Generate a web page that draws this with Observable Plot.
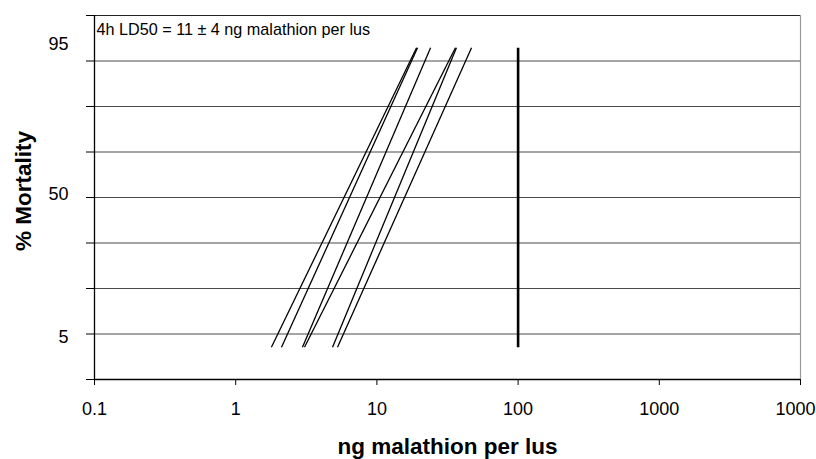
<!DOCTYPE html>
<html>
<head>
<meta charset="utf-8">
<script src="https://cdn.jsdelivr.net/npm/d3@7"></script>
<script src="https://cdn.jsdelivr.net/npm/@observablehq/plot@0.6"></script>
<style>
  html, body { margin: 0; padding: 0; background: #fff; overflow: hidden; }
  #chart svg { display: block; font-family: "Liberation Sans", Arial, sans-serif; }
</style>
</head>
<body>
<div id="chart"></div>
<script>
// ---- data ----
const title = "4h LD50 = 11 \u00b1 4 ng malathion per lus";
const xLabel = "ng malathion per lus";
const yLabel = "% Mortality";

const xTicks = [0.1, 1, 10, 100, 1000, 10000];
const xTickLabels = ["0.1", "1", "10", "100", "1000", "10000"];

// y axis in probit units
const yTicks = [3, 3.5, 4, 4.5, 5, 5.5, 6, 6.5, 7];
const yGridLines = [3.5, 4, 4.5, 5, 5.5, 6, 6.5];
const yLabelPos = [3.46, 5.04, 6.68];
const yLabelText = ["5", "50", "95"];

// probit lines: dose at 5% and 95% mortality for each replicate
const replicates = ["R1", "R2", "R3", "R4", "R5", "R6"];
const doseAt5 = [1.79, 2.11, 2.97, 3.07, 4.85, 5.26];
const doseAt95 = [19.1, 19.4, 24.0, 36.0, 36.6, 46.8];
const probit5 = 3.355;
const probit95 = 6.645;

// reference dose
const refDose = [100];

// ---- build ----
const lines = replicates.map((r, i) => ({r, x1: doseAt5[i], x2: doseAt95[i], y1: probit5, y2: probit95}));
const refs = refDose.map(d => ({x1: d, x2: d, y1: probit5, y2: probit95}));
const xFmt = d => {
  const k = xTicks.findIndex(t => Math.abs(t - d) / t < 1e-6);
  return k >= 0 ? xTickLabels[k] : "";
};
const yFmt = d => {
  const k = yLabelPos.findIndex(t => Math.abs(t - d) < 1e-6);
  return k >= 0 ? yLabelText[k] : "";
};

const chart = Plot.plot({
  width: 816,
  height: 459,
  marginLeft: 94,
  marginRight: 16,
  marginTop: 15,
  marginBottom: 80,
  style: {fontFamily: '"Liberation Sans", Arial, sans-serif', color: "#000", background: "#fff"},
  x: {type: "log", domain: [0.1, 10000]},
  y: {domain: [3, 7]},
  marks: [
    Plot.ruleY(yGridLines, {stroke: "#4a4a4a", strokeWidth: 1}),
    Plot.ruleY([7], {stroke: "#222", strokeWidth: 1}),
    Plot.ruleX([10000], {stroke: "#999", strokeWidth: 1.2}),
    Plot.link(lines, {x1: "x1", y1: "y1", x2: "x2", y2: "y2", stroke: "#000", strokeWidth: 1.3}),
    Plot.link(refs, {x1: "x1", y1: "y1", x2: "x2", y2: "y2", stroke: "#000", strokeWidth: 2.6}),
    Plot.axisY({ticks: yTicks, tickSize: 8, tickFormat: () => "", label: null, stroke: "#000"}),
    Plot.axisY({ticks: yLabelPos, tickSize: 0, tickPadding: 26, tickFormat: yFmt, fontSize: 18, label: null}),
    Plot.ruleX([0.1], {stroke: "#000", strokeWidth: 1.3}),
    Plot.ruleY([3], {stroke: "#000", strokeWidth: 1.3}),
    Plot.axisX({ticks: xTicks, tickSize: 6, tickPadding: 17, tickFormat: xFmt, fontSize: 18, label: null, stroke: "#000"}),
    Plot.text([title], {frameAnchor: "top-left", dx: 2, dy: 8, fontSize: 16.2, textAnchor: "start", lineAnchor: "top", fill: "#000"}),
    Plot.text([xLabel], {frameAnchor: "bottom", dy: 67, fontSize: 22.5, fontWeight: "bold", textAnchor: "middle", lineAnchor: "middle", fill: "#000"}),
    Plot.text([yLabel], {frameAnchor: "left", dx: -71, dy: -6.5, rotate: -90, fontSize: 22.5, fontWeight: "bold", textAnchor: "middle", lineAnchor: "middle", fill: "#000"})
  ]
});
document.getElementById("chart").appendChild(chart);
</script>
</body>
</html>
